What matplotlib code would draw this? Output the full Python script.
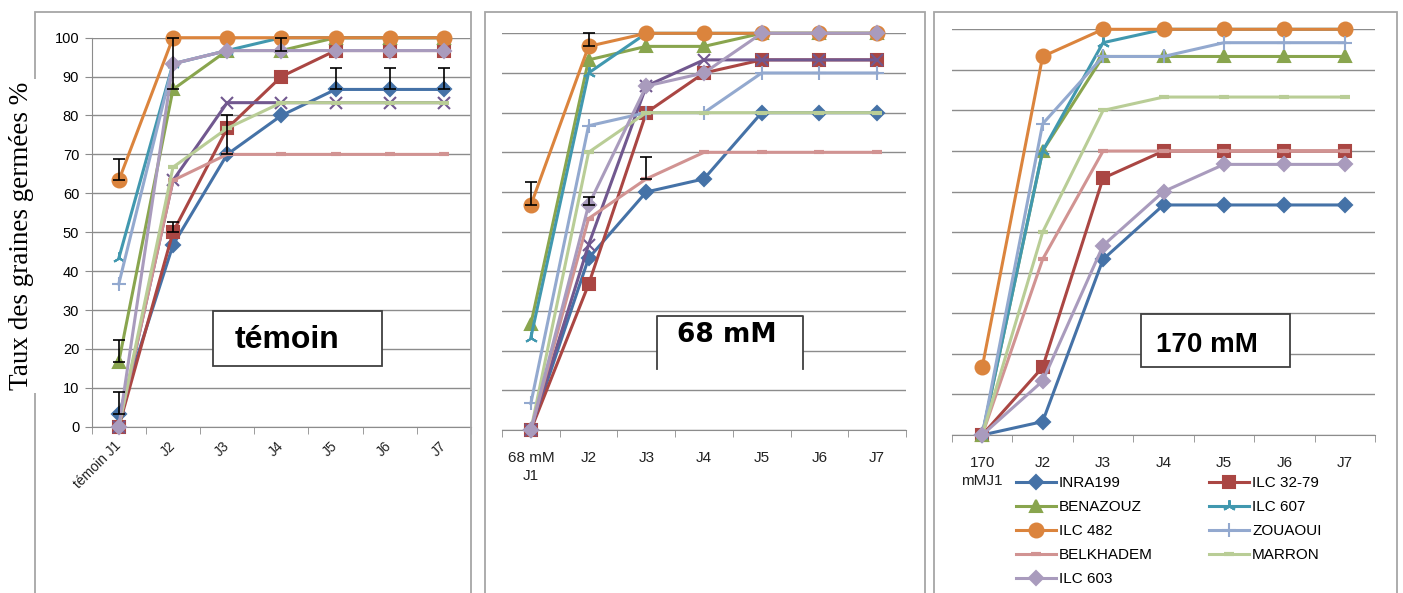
import matplotlib
matplotlib.use("Agg")
import matplotlib.pyplot as plt
import matplotlib.patches as mpatches
from matplotlib.lines import Line2D
import numpy as np

# categories (days) and varieties, series order as in the Excel sheet
days = ["J1", "J2", "J3", "J4", "J5", "J6", "J7"]
varieties = ["INRA199", "ILC 32-79", "BENAZOUZ", None, "ILC 607", "ILC 482",
             "ZOUAOUI", "BELKHADEM", "MARRON", "ILC 603"]

temoin_labels = ["témoin J1", "J2", "J3", "J4", "J5", "J6", "J7"]
s68_labels = ["68 mM\nJ1", "J2", "J3", "J4", "J5", "J6", "J7"]
s170_labels = ["170\nmMJ1", "J2", "J3", "J4", "J5", "J6", "J7"]

# germination rate (%) per variety, témoin
temoin = [
    [3.3, 46.7, 70, 80, 86.7, 86.7, 86.7],
    [0, 50, 76.7, 90, 96.7, 96.7, 96.7],
    [16.7, 86.7, 96.7, 96.7, 100, 100, 100],
    [0, 63.3, 83.3, 83.3, 83.3, 83.3, 83.3],
    [43.3, 93.3, 96.7, 100, 100, 100, 100],
    [63.3, 100, 100, 100, 100, 100, 100],
    [36.7, 93.3, 96.7, 96.7, 96.7, 96.7, 96.7],
    [0, 63.3, 70, 70, 70, 70, 70],
    [0, 66.7, 76.7, 83.3, 83.3, 83.3, 83.3],
    [0, 93.3, 96.7, 96.7, 96.7, 96.7, 96.7],
]

# 68 mM NaCl
s68 = [
    [0, 43.3, 60, 63.3, 80, 80, 80],
    [0, 36.7, 80, 90, 93.3, 93.3, 93.3],
    [26.7, 93.3, 96.7, 96.7, 100, 100, 100],
    [0, 46.7, 86.7, 93.3, 93.3, 93.3, 93.3],
    [23.3, 90, 100, 100, 100, 100, 100],
    [56.7, 96.7, 100, 100, 100, 100, 100],
    [6.7, 76.7, 80, 80, 90, 90, 90],
    [0, 53.3, 63.3, 70, 70, 70, 70],
    [0, 70, 80, 80, 80, 80, 80],
    [0, 56.7, 86.7, 90, 100, 100, 100],
]

# 170 mM NaCl
s170 = [
    [0, 3.3, 43.3, 56.7, 56.7, 56.7, 56.7],
    [0, 16.7, 63.3, 70, 70, 70, 70],
    [0, 70, 93.3, 93.3, 93.3, 93.3, 93.3],
    None,
    [0, 70, 96.7, 100, 100, 100, 100],
    [16.7, 93.3, 100, 100, 100, 100, 100],
    [0, 76.7, 93.3, 93.3, 96.7, 96.7, 96.7],
    [0, 43.3, 70, 70, 70, 70, 70],
    [0, 50, 80, 83.3, 83.3, 83.3, 83.3],
    [0, 13.3, 46.7, 60, 66.7, 66.7, 66.7],
]

# plus-only error bars: (series, day, error)
temoin_err = [(0, 0, 5.7), (0, 2, 10), (0, 4, 5.6), (0, 5, 5.6), (0, 6, 5.6),
              (1, 1, 2.5), (2, 0, 5.5), (2, 1, 13.3), (2, 3, 3.3), (5, 0, 5.6)]
s68_err = [(5, 0, 5.7), (5, 1, 3.3), (9, 1, 2.1), (7, 2, 5.6)]

colors = ["#4572A7", "#AA4643", "#89A54E", "#71588F", "#4198AF", "#DB843D",
          "#93A9CF", "#D19392", "#B9CD96", "#A99BBD"]
markers = ["D", "s", "^", "x", (3, 2, 0), "o", "+", "_", "_", "D"]
msizes = [7.5, 9, 9, 8, 9, 10, 10, 7, 7, 7.5]

W, H = 1403, 593
fig = plt.figure(figsize=(W / 100, H / 100), dpi=100)
plt.rcParams['font.family'] = ['Liberation Sans', 'DejaVu Sans']

grid_col = "#8C8C8C"
frame_col = "#A6A6A6"


def px_box(x0, y0, x1, y1):
    # pixel box (from top-left) -> figure fraction [left, bottom, width, height]
    return [x0 / W, 1 - y1 / H, (x1 - x0) / W, (y1 - y0) / H]


# panel frames
for x0, x1 in [(35, 471), (485, 925), (934, 1397)]:
    fig.patches.append(mpatches.Rectangle((x0 / W, -0.05), (x1 - x0) / W, 1.05 - 12 / H,
                                          transform=fig.transFigure, fill=False,
                                          edgecolor=frame_col, linewidth=1.3))

ax1 = fig.add_axes(px_box(91.7, 37.7, 471, 426.7))
ax2 = fig.add_axes(px_box(502, 33.3, 906, 430))
ax3 = fig.add_axes(px_box(952, 29.3, 1375, 435))

x = np.arange(len(days))
panels = [(ax1, temoin, temoin_labels, temoin_err),
          (ax2, s68, s68_labels, s68_err),
          (ax3, s170, s170_labels, [])]

for ax, data, labels, errs in panels:
    ax.set_facecolor("none")
    ax.set_xlim(-0.5, 6.5)
    ax.set_ylim(0, 100)
    for v in range(0, 101, 10):
        ax.axhline(v, color=grid_col, linewidth=1.0, zorder=0)
    for i, vals in enumerate(data):
        if vals is None:
            continue
        mew = 3 if markers[i] == "_" else 1.5
        lab = varieties[i] if varieties[i] else "_nolegend_"
        ax.plot(x, vals, color=colors[i], linewidth=2.2, marker=markers[i],
                markersize=msizes[i], markeredgewidth=mew, clip_on=False,
                label=lab, zorder=2 + i * 0.1)
    for s, d, e in errs:
        ax.errorbar(x[d], data[s][d], yerr=[[0], [e]], fmt="none", ecolor="black",
                    elinewidth=1.2, capsize=4, capthick=1.2, zorder=5, clip_on=False)
    for sp in ["top", "right", "left"]:
        ax.spines[sp].set_visible(False)
    ax.spines["bottom"].set_color(grid_col)
    ax.set_xticks(x)
    ax.set_xticks(np.arange(-0.5, 7), minor=True)
    ax.tick_params(axis="x", which="major", length=0)
    ax.tick_params(axis="x", which="minor", length=5, color=grid_col, direction="out")

# témoin panel: y axis and rotated labels
ax1.spines["left"].set_visible(True)
ax1.spines["left"].set_color(grid_col)
ax1.set_yticks(range(0, 101, 10))
ax1.tick_params(axis="y", length=5, color=grid_col, labelsize=10.5, pad=4)
ax1.set_xticklabels(temoin_labels, rotation=45, ha="right", va="center",
                    rotation_mode="anchor", fontsize=10, color="#222222")
ax1.tick_params(axis="x", which="major", pad=12)

for ax, labels in [(ax2, s68_labels), (ax3, s170_labels)]:
    ax.set_yticks([])
    ax.set_xticklabels(labels, fontsize=11, color="#222222", linespacing=1.35)
    ax.tick_params(axis="x", which="major", pad=15)

# y label drawn over the frame of the first panel
fig.text(22 / W, 1 - 236 / H, "Taux des graines germées %", rotation=90,
         ha="center", va="center", fontsize=19.5, family=["Liberation Serif", "DejaVu Serif"],
         bbox=dict(facecolor="white", edgecolor="none", pad=2))

# treatment boxes
fig.patches.append(mpatches.Rectangle((213 / W, 1 - 366 / H), (382 - 213) / W, (366 - 311) / H,
                                      transform=fig.transFigure, facecolor="white",
                                      edgecolor="#404040", linewidth=1.3, zorder=3))
fig.text(287 / W, 1 - 340 / H, "témoin", fontsize=23, fontweight="bold",
         ha="center", va="center", zorder=4)

fig.patches.append(mpatches.Rectangle((657 / W, 1 - 369 / H), (803 - 657) / W, (369 - 316) / H,
                                      transform=fig.transFigure, facecolor="white",
                                      edgecolor="none", zorder=3))
fig.lines.append(Line2D([657 / W, 657 / W, 803 / W, 803 / W],
                        [1 - 369 / H, 1 - 316 / H, 1 - 316 / H, 1 - 369 / H],
                        transform=fig.transFigure, color="#404040", linewidth=1.3, zorder=4))
fig.text(727 / W, 1 - 335 / H, "68 mM", fontsize=19, fontweight="bold",
         family=["DejaVu Sans"], ha="center", va="center", zorder=5)

fig.patches.append(mpatches.Rectangle((1141 / W, 1 - 367 / H), (1290 - 1141) / W, (367 - 314) / H,
                                      transform=fig.transFigure, facecolor="white",
                                      edgecolor="#404040", linewidth=1.3, zorder=3))
fig.text(1207 / W, 1 - 345 / H, "170 mM", fontsize=20, fontweight="bold",
         ha="center", va="center", zorder=4)

# legend, filled row by row like Excel
handles, labs = ax3.get_legend_handles_labels()
order = list(range(0, len(handles), 2)) + list(range(1, len(handles), 2))
ax3.legend([handles[i] for i in order], [labs[i] for i in order], ncol=2,
           loc="upper left", bbox_to_anchor=(1010 / W, 1 - 470 / H),
           bbox_transform=fig.transFigure, frameon=False, fontsize=11,
           handlelength=2.6, handletextpad=0.2, columnspacing=3.7,
           labelspacing=0.66, borderaxespad=0)

fig.savefig("out.png", dpi=100)
